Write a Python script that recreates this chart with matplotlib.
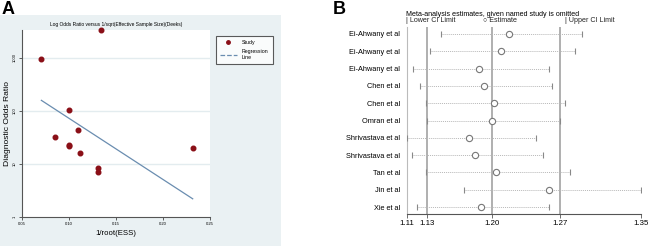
import numpy as np
import matplotlib
matplotlib.use("Agg")
import matplotlib.pyplot as plt
from matplotlib.patches import Rectangle
from matplotlib.lines import Line2D

plt.rcParams['font.family'] = ['Liberation Sans', 'DejaVu Sans']

# ---- panel A data: Deeks funnel plot ----
ess_x = [0.0706, 0.1344, 0.1004, 0.0851, 0.1092, 0.1004, 0.1004, 0.1117, 0.1305, 0.1305, 0.2316]
dor = [930, 3380, 105, 32, 43.6, 22.4, 21.4, 16.3, 8.3, 7.0, 20.2]
reg_x = [0.0706, 0.2316]
reg_dor = [157, 2.2]
a_xticks = [0.05, 0.10, 0.15, 0.20, 0.25]
a_yticks = [1, 10, 100, 1000]

# ---- panel B data: leave-one-out sensitivity ----
studies = ["Ei-Ahwany et al", "Ei-Ahwany et al", "Ei-Ahwany et al", "Chen et al", "Chen et al",
           "Omran et al", "Shrivastava et al", "Shrivastava et al", "Tan et al", "Jin et al", "Xie et al"]
est = [1.215, 1.206, 1.184, 1.189, 1.199, 1.197, 1.174, 1.180, 1.201, 1.256, 1.186]
lower = [1.145, 1.134, 1.116, 1.123, 1.129, 1.131, 1.110, 1.115, 1.130, 1.168, 1.120]
upper = [1.289, 1.282, 1.256, 1.259, 1.272, 1.267, 1.242, 1.249, 1.277, 1.350, 1.256]
overall = [1.131, 1.197, 1.267]  # lower CI, estimate, upper CI of full model

W, H = 650, 246
fig = plt.figure(figsize=(W / 100, H / 100), dpi=100)
fig.patch.set_facecolor('white')

def fx(px):
    return px / W

def fy(py):
    return 1 - py / H

# light background behind panel A
fig.patches.append(Rectangle((0, 0), fx(281), fy(15), transform=fig.transFigure,
                             facecolor='#eaf1f3', edgecolor='none', zorder=-10))

fig.text(fx(2), fy(10), 'A', fontsize=13, fontweight='bold', va='center', ha='left')
fig.text(fx(333), fy(10), 'B', fontsize=13, fontweight='bold', va='center', ha='left')

# ---------- panel A ----------
axA = fig.add_axes([fx(22), fy(217), fx(210 - 22), (217 - 30) / H])
axA.set_facecolor('white')
axA.set_yscale('log')
axA.set_xlim(0.05, 0.25)
axA.set_ylim(1, 10 ** 3.52)
for v in a_yticks[1:]:
    axA.axhline(v, color='#e3ecef', lw=1, zorder=1)
axA.plot(reg_x, reg_dor, color='#6a8db0', lw=0.9, zorder=2)
axA.plot(ess_x, dor, linestyle='none', marker='o', ms=3.3, color='#8a0f17',
         clip_on=False, zorder=3)
axA.set_xticks(a_xticks)
axA.set_xticklabels(['%.2f' % v for v in a_xticks])
axA.set_yticks(a_yticks)
axA.set_yticklabels([str(v) for v in a_yticks], rotation=90, va='center')
axA.yaxis.set_minor_locator(matplotlib.ticker.NullLocator())
axA.tick_params(labelsize=3, length=2, width=0.6, color='#444444', pad=1.5)
for s in ['top', 'right']:
    axA.spines[s].set_visible(False)
for s in ['left', 'bottom']:
    axA.spines[s].set_color('#555555')
    axA.spines[s].set_linewidth(0.8)
axA.set_xlabel('1/root(ESS)', fontsize=5.6)
axA.xaxis.set_label_coords(0.5, (217 - 230) / 187, transform=axA.transAxes)
axA.set_ylabel('Diagnostic Odds Ratio', fontsize=6.1)
axA.yaxis.set_label_coords((11 - 22) / 188, 0.5, transform=axA.transAxes)
axA.set_title('Log Odds Ratio versus 1/sqrt(Effective Sample Size)(Deeks)', fontsize=3.5, pad=3)

handles = [Line2D([], [], linestyle='none', marker='o', ms=2.5, color='#8a0f17'),
           Line2D([], [], color='#6a8db0', lw=0.9, linestyle='--')]
leg = axA.legend(handles, ['Study', 'Regression\nLine'], loc='upper left',
                 bbox_to_anchor=(1.016, 0.984), fontsize=3.8, frameon=True, fancybox=False,
                 handlelength=3.2, borderpad=0.8, labelspacing=0.8, handletextpad=1.0)
leg.get_frame().set_edgecolor('#333333')
leg.get_frame().set_linewidth(0.8)

# ---------- panel B ----------
axB = fig.add_axes([fx(407), fy(214), fx(641 - 407), (214 - 27) / H])
n = len(studies)
ypos = np.arange(1, n + 1)
xmin, xmax = min(lower), max(upper)
axB.set_xlim(xmin, xmax)
axB.set_ylim(n + 0.4, 0.6)
for v in overall:
    axB.axvline(v, color='#9a9a9a', lw=1.1, zorder=1)
axB.hlines(ypos, lower, upper, color='#b8b8b8', lw=0.7, linestyles=(0, (1, 1)), zorder=2)
axB.plot(lower, ypos, linestyle='none', marker='|', ms=5, mew=0.8, color='#888888', zorder=3)
axB.plot(upper, ypos, linestyle='none', marker='|', ms=5, mew=0.8, color='#888888', zorder=3)
axB.plot(est, ypos, linestyle='none', marker='o', ms=4.5, mfc='white', mec='#777777',
         mew=0.8, zorder=4)
xt = [xmin] + overall + [xmax]
axB.set_xticks(xt)
axB.set_xticklabels(['%.2f' % v for v in xt])
axB.set_yticks(ypos)
axB.set_yticklabels(studies)
axB.tick_params(axis='x', labelsize=5.7, length=3, width=0.6, color='#555555', pad=1.5)
axB.tick_params(axis='y', labelsize=5.3, length=0, pad=5)
for s in ['top', 'right']:
    axB.spines[s].set_visible(False)
axB.spines['left'].set_color('#bbbbbb')
axB.spines['left'].set_linewidth(0.8)
axB.spines['bottom'].set_color('#555555')
axB.spines['bottom'].set_linewidth(0.8)

hdr = 5.1
fig.text(fx(406), fy(14.5), 'Meta-analysis estimates, given named study is omitted',
         fontsize=hdr, va='center', ha='left')
fig.text(fx(406), fy(21), '| Lower CI Limit', fontsize=hdr, va='center', ha='left', color='#222222')
fig.text(fx(483), fy(21), '\u25CB Estimate', fontsize=hdr, va='center', ha='left', color='#222222')
fig.text(fx(565), fy(21), '| Upper CI Limit', fontsize=hdr, va='center', ha='left', color='#222222')

fig.savefig('out.png', dpi=100)
